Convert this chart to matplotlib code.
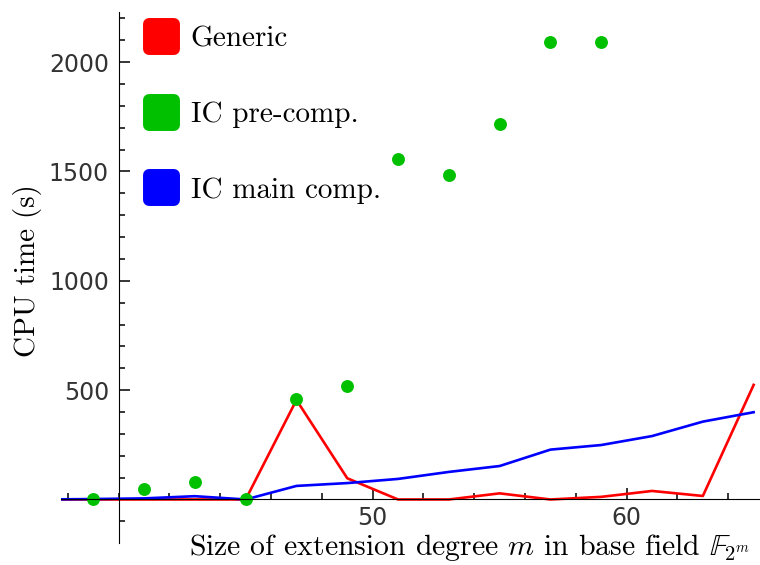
import matplotlib
matplotlib.use('Agg')
import matplotlib.pyplot as plt
from matplotlib.lines import Line2D
from matplotlib.markers import MarkerStyle
from matplotlib.ticker import MultipleLocator

plt.rcParams['mathtext.fontset'] = 'cm'

# extension degree m (odd values)
m_lines = [37, 39, 41, 43, 45, 47, 49, 51, 53, 55, 57, 59, 61, 63, 65]
generic = [0, 0, 0, 0, 0, 455, 97, 0, 0, 28, 0, 12, 39, 16, 524]
ic_main = [0, 2, 5, 15, 0, 62, 75, 94, 126, 153, 228, 249, 290, 356, 399]

m_pre = [39, 41, 43, 45, 47, 49, 51, 53, 55, 57, 59]
ic_pre = [0, 47, 79, 0, 460, 519, 1555, 1485, 1715, 2090, 2090]

red = '#ff0000'
green = '#00c000'
blue = '#0000ff'

fig = plt.figure(figsize=(7.6, 5.65), dpi=100)
W, H = 760, 565
ax = fig.add_axes([61 / W, 1 - 543 / H, 699 / W, 531 / H])

ax.plot(m_lines, generic, color=red, lw=1.9, zorder=3)
ax.plot(m_lines, ic_main, color=blue, lw=1.9, zorder=3)
ax.plot(m_pre, ic_pre, 'o', color=green, ms=9.3, mec='none', zorder=4)

ax.set_xlim(37.73, 65.25)
ax.set_ylim(-199, 2229)

for s in ['top', 'right']:
    ax.spines[s].set_visible(False)
ax.spines['left'].set_position(('data', 40))
ax.spines['bottom'].set_position(('data', 0))
ax.spines['left'].set_zorder(5)
ax.spines['bottom'].set_zorder(5)

ax.xaxis.set_minor_locator(MultipleLocator(2))
ax.yaxis.set_minor_locator(MultipleLocator(100))
ax.set_xticks([50, 60])
ax.set_yticks([500, 1000, 1500, 2000])
ax.tick_params(which='both', direction='in', labelsize=17, labelcolor='#333333')
ax.tick_params(which='major', length=8, width=1.1)
ax.tick_params(which='minor', length=4, width=1.1)
ax.tick_params(axis='y', pad=7)
ax.tick_params(axis='x', pad=5)

ax.set_xlabel(r'Size of extension degree $m$ in base field $\mathbb{F}_{2^m}$',
              family='cmr10', fontsize=21.4, ha='right')
ax.xaxis.set_label_coords(0.9857, 0.02)
ax.set_ylabel('CPU time (s)', family='cmr10', fontsize=21)
ax.yaxis.set_label_coords(-0.027, 0.514)

mk = MarkerStyle('s', joinstyle='round')
handles = [Line2D([], [], ls='none', marker=mk, ms=18, mew=8.6, color=c, mec=c)
           for c in (red, green, blue)]
ax.legend(handles, ['Generic', 'IC pre-comp.', 'IC main comp.'],
          prop={'family': 'cmr10', 'size': 21}, frameon=False, numpoints=1,
          loc='upper left', bbox_to_anchor=(130 / W, 1 - 14 / H),
          bbox_transform=fig.transFigure, handlelength=1.3, handletextpad=0.38,
          labelspacing=1.69, borderaxespad=0)

fig.savefig('out.png', dpi=100)
